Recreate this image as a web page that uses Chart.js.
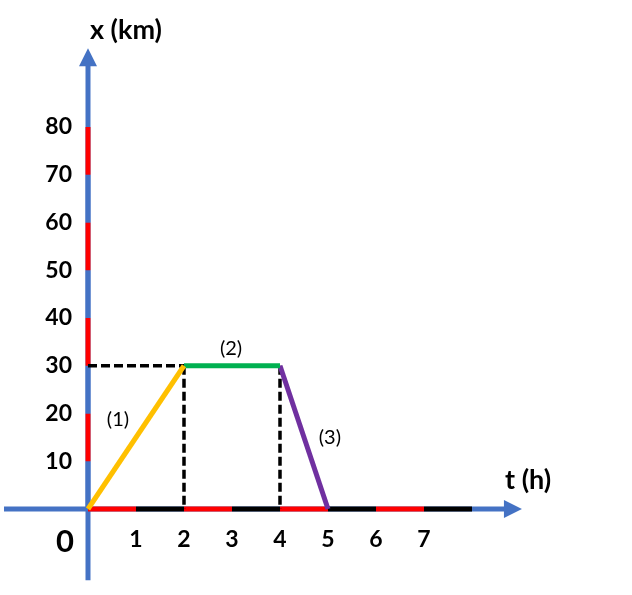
<!DOCTYPE html>
<html>
<head>
<meta charset="utf-8">
<script src="https://cdn.jsdelivr.net/npm/chart.js@4.4.0/dist/chart.umd.min.js"></script>
<style>
  html, body { margin: 0; padding: 0; background: #fff; }
  #wrap { width: 632px; height: 595px; position: relative; }
</style>
</head>
<body>
<div id="wrap"><canvas id="c"></canvas></div>
<script>
// ---- data ----
const timeTicks = [1, 2, 3, 4, 5, 6, 7];          // t (h)
const distTicks = [10, 20, 30, 40, 50, 60, 70, 80]; // x (km)
const phaseTimes = [0, 2, 4, 5];                   // t at phase boundaries
const phaseDist = [0, 30, 30, 0];                  // x at phase boundaries
const phaseLabels = ['(1)', '(2)', '(3)'];
const xAxisStops = [0, 1, 2, 3, 4, 5, 6, 7, 8];
const yAxisStops = [0, 10, 20, 30, 40, 50, 60, 70, 80];

// ---- styles ----
const BLUE = '#4472C4', RED = '#FF0000', BLACK = '#000000';
const phaseColors = ['#FFC000', '#00B050', '#7030A0'];
const FONT = 'Lato, "Liberation Sans", sans-serif';

const X_MIN = -1.8333, X_MAX = 11.3333, Y_MIN = -13.82, Y_MAX = 102.4;
const X_LEFT = -1.75, X_TIP = 9.04, Y_BOTTOM = -14.9, Y_TIP = 96.5;

const pt = (x, y) => ({x, y});
const datasets = [];

// phase lines
for (let i = 0; i < 3; i++) {
  datasets.push({
    data: [pt(phaseTimes[i], phaseDist[i]), pt(phaseTimes[i + 1], phaseDist[i + 1])],
    borderColor: phaseColors[i], borderWidth: 5, showLine: true, pointRadius: 0,
    borderCapStyle: 'butt', order: 1, clip: false
  });
}
// dashed guides
const guides = [
  [pt(0, phaseDist[1]), pt(phaseTimes[1], phaseDist[1])],
  [pt(phaseTimes[1], phaseDist[1]), pt(phaseTimes[1], 0)],
  [pt(phaseTimes[2], phaseDist[2]), pt(phaseTimes[2], 0)]
];
guides.forEach(g => datasets.push({
  data: g, borderColor: BLACK, borderWidth: 3.5, borderDash: [9, 4], showLine: true,
  pointRadius: 0, order: 3, clip: false
}));
// colored axis segments
datasets.push({
  data: xAxisStops.map(v => pt(v, 0)), showLine: true, pointRadius: 0, borderWidth: 5,
  borderColor: RED, borderCapStyle: 'butt', order: 4, clip: false,
  segment: { borderColor: ctx => (ctx.p0DataIndex % 2 === 0 ? RED : BLACK) }
});
datasets.push({
  data: yAxisStops.map(v => pt(0, v)), showLine: true, pointRadius: 0, borderWidth: 5,
  borderColor: BLUE, borderCapStyle: 'butt', order: 4, clip: false,
  segment: { borderColor: ctx => (ctx.p0DataIndex % 2 === 0 ? BLUE : RED) }
});
// blue axis lines
datasets.push({
  data: [pt(X_LEFT, 0), pt(X_TIP - 0.35, 0)], showLine: true, pointRadius: 0, borderWidth: 5,
  borderColor: BLUE, borderCapStyle: 'butt', order: 5, clip: false
});
datasets.push({
  data: [pt(0, Y_BOTTOM), pt(0, Y_TIP - 3.6)], showLine: true, pointRadius: 0, borderWidth: 5,
  borderColor: BLUE, borderCapStyle: 'butt', order: 5, clip: false
});

const overlay = {
  id: 'overlay',
  afterDatasetsDraw(chart) {
    const {ctx, scales: {x, y}} = chart;
    const px = v => x.getPixelForValue(v), py = v => y.getPixelForValue(v);
    ctx.save();
    ctx.fillStyle = BLUE;
    // x arrow
    ctx.beginPath();
    ctx.moveTo(px(X_TIP), py(0));
    ctx.lineTo(px(X_TIP) - 18, py(0) - 9);
    ctx.lineTo(px(X_TIP) - 18, py(0) + 9);
    ctx.closePath(); ctx.fill();
    // y arrow
    ctx.beginPath();
    ctx.moveTo(px(0), py(Y_TIP));
    ctx.lineTo(px(0) - 9, py(Y_TIP) + 18);
    ctx.lineTo(px(0) + 9, py(Y_TIP) + 18);
    ctx.closePath(); ctx.fill();

    ctx.fillStyle = BLACK;
    ctx.textAlign = 'center'; ctx.textBaseline = 'middle';
    ctx.font = 'bold 27px ' + FONT;
    ctx.fillText('x (km)', px(0.79), py(100.3));
    ctx.fillText('t (h)', px(9.17), py(6.1));
    ctx.font = 'bold 31px ' + FONT;
    ctx.fillText('0', px(-0.48), py(-6.9));
    ctx.font = '20px ' + FONT;
    const lp = [[0.625, 18.8], [2.98, 33.7], [5.04, 14.9]];
    phaseLabels.forEach((l, i) => ctx.fillText(l, px(lp[i][0]), py(lp[i][1])));
    ctx.restore();
  }
};

new Chart(document.getElementById('c'), {
  type: 'scatter',
  data: { datasets },
  plugins: [overlay],
  options: {
    responsive: true, maintainAspectRatio: false, animation: false, devicePixelRatio: 1,
    layout: { padding: { top: 20, bottom: 20, left: 0, right: 0 } },
    plugins: { legend: { display: false }, tooltip: { enabled: false } },
    scales: {
      x: {
        type: 'linear', min: X_MIN, max: X_MAX, position: { y: 0 },
        grid: { display: false, drawTicks: false }, border: { display: false },
        afterBuildTicks: s => { s.ticks = timeTicks.map(v => ({ value: v })); },
        ticks: { padding: 17, color: BLACK, font: { family: FONT, size: 23, weight: 'bold' } }
      },
      y: {
        type: 'linear', min: Y_MIN, max: Y_MAX, position: { x: -0.333 },
        grid: { display: false, drawTicks: false }, border: { display: false },
        afterBuildTicks: s => { s.ticks = distTicks.map(v => ({ value: v })); },
        ticks: { padding: 0, color: BLACK, font: { family: FONT, size: 23, weight: 'bold' } }
      }
    }
  }
});
</script>
</body>
</html>
